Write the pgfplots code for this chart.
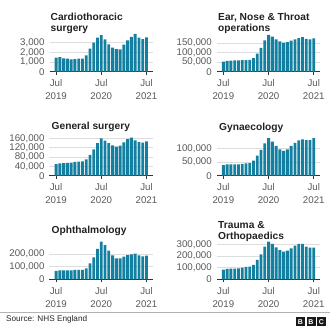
\documentclass[border=0pt]{standalone}
\usepackage{fontspec}
\setmainfont{Liberation Sans}
\usepackage{pgfplots}
\pgfplotsset{compat=1.18}
\definecolor{bbcteal}{HTML}{1380A1}
\definecolor{tickgray}{HTML}{5A5A5A}
\definecolor{gridgray}{HTML}{DDDDDD}
\definecolor{titlecol}{HTML}{222222}
\pgfplotsset{
 panel/.style={
  scale only axis, width=103pt, height=38pt,
  anchor=south west,
  xmin=-1.75, xmax=25.6, ymin=0,
  axis lines=left, axis line style={-},
  x axis line style={draw=black!80, line width=0.9pt},
  y axis line style={draw=none},
  ymajorgrids, grid style={gridgray, line width=0.6pt},
  xtick={0,12,24}, xticklabels={Jul\\2019,Jul\\2020,Jul\\2021},
  xtick align=outside,
  major tick length=3pt,
  xtick style={draw=black!80, line width=0.8pt},
  ytick style={draw=none},
  tick label style={font=\fontsize{9.7}{12.8}\selectfont, text=tickgray},
  xticklabel style={align=center, yshift=-1.5pt},
  scaled y ticks=false,
  /pgf/number format/fixed,
  /pgf/number format/1000 sep={,},
  /pgf/number format/assume math mode=true,
  clip=false,
  ybar, bar width=0.76,
 },
 bars/.style={fill=bbcteal, draw=none},
}
\newcommand{\ttl}[3]{\node[anchor=base west, inner sep=0pt, text=titlecol, font=\bfseries\fontsize{10.2}{11}\selectfont] at (#1pt,#2pt) {#3};}
\begin{document}
\begin{tikzpicture}
\fill[white] (0pt,0pt) rectangle (330pt,330pt);
\useasboundingbox (0pt,0pt) rectangle (330pt,330pt);

% Panel 1
\begin{axis}[panel, at={(49.5pt,258.3pt)}, ymax=3930, ytick={0,1000,2000,3000}]
\addplot[bars] coordinates {(0,1450)(1,1520)(2,1380)(3,1345)(4,1275)(5,1310)(6,1345)(7,1345)(8,1690)(9,2380)(10,3000)(11,3520)(12,3790)(13,3340)(14,2830)(15,2480)(16,2340)(17,2310)(18,2790)(19,3240)(20,3590)(21,3900)(22,3520)(23,3380)(24,3550)};
\end{axis}
\ttl{50.5}{309.3}{Cardiothoracic}
\ttl{50.5}{298.3}{surgery}

% Panel 2
\begin{axis}[panel, at={(216.8pt,258.3pt)}, ymax=198500, ytick={0,50000,100000,150000}]
\addplot[bars] coordinates {(0,53000)(1,57000)(2,57500)(3,59000)(4,59000)(5,60000)(6,60500)(7,62000)(8,71000)(9,95000)(10,124000)(11,164000)(12,193000)(13,183000)(14,169000)(15,159000)(16,152000)(17,155000)(18,162000)(19,169000)(20,176000)(21,181000)(22,172000)(23,169000)(24,174000)};
\end{axis}
\ttl{218}{309.3}{Ear, Nose \& Throat}
\ttl{218}{298.3}{operations}

% Panel 3
\begin{axis}[panel, at={(49.5pt,154.3pt)}, ymax=162600, ytick={0,40000,80000,120000,160000}]
\addplot[bars] coordinates {(0,49000)(1,53000)(2,54000)(3,54500)(4,56000)(5,59000)(6,60000)(7,61000)(8,70000)(9,89000)(10,113000)(11,139000)(12,160000)(13,150000)(14,139000)(15,130000)(16,124000)(17,129000)(18,143000)(19,156000)(20,163000)(21,151000)(22,144000)(23,141000)(24,147000)};
\end{axis}
\ttl{51.5}{200.7}{General surgery}

% Panel 4
\begin{axis}[panel, at={(216.8pt,154.3pt)}, ymax=138700, ytick={0,50000,100000}]
\addplot[bars] coordinates {(0,39000)(1,41000)(2,41000)(3,41000)(4,41000)(5,43000)(6,45000)(7,46000)(8,55000)(9,73000)(10,94000)(11,118000)(12,137000)(13,124000)(14,109000)(15,96000)(16,91000)(17,96000)(18,109000)(19,120000)(20,129000)(21,133000)(22,130000)(23,130000)(24,137000)};
\end{axis}
\ttl{219}{199.5}{Gynaecology}

% Panel 5
\begin{axis}[panel, at={(49.5pt,50.7pt)}, ymax=300400, ytick={0,100000,200000}]
\addplot[bars] coordinates {(0,66000)(1,71000)(2,71000)(3,71000)(4,71000)(5,74000)(6,74000)(7,74000)(8,87000)(9,126000)(10,174000)(11,240000)(12,297000)(13,271000)(14,226000)(15,189000)(16,166000)(17,166000)(18,179000)(19,192000)(20,197000)(21,203000)(22,189000)(23,182000)(24,187000)};
\end{axis}
\ttl{51.5}{96.7}{Ophthalmology}

% Panel 6
\begin{axis}[panel, at={(216.8pt,50.7pt)}, ymax=325700, ytick={0,100000,200000,300000}]
\addplot[bars] coordinates {(0,83000)(1,89000)(2,91000)(3,91000)(4,94000)(5,100000)(6,106000)(7,109000)(8,123000)(9,166000)(10,214000)(11,280000)(12,323000)(13,303000)(14,274000)(15,251000)(16,237000)(17,246000)(18,266000)(19,289000)(20,303000)(21,303000)(22,280000)(23,271000)(24,271000)};
\end{axis}
\ttl{218}{101.7}{Trauma \&}
\ttl{218}{90.7}{Orthopaedics}

% Footer
\draw[black!30, line width=0.8pt] (0pt,17.3pt) -- (330pt,17.3pt);
\node[anchor=base west, inner sep=0pt, text=black!85, font=\fontsize{8.2}{10}\selectfont] at (6pt,8.3pt) {Source: NHS England};
\foreach \i/\l in {0/B,1/B,2/C}{
  \fill[black!90] (296pt+\i*10.5pt,3.5pt) rectangle ++(9pt,9pt);
  \node[text=white, font=\bfseries\fontsize{7}{7}\selectfont, inner sep=0pt] at (300.5pt+\i*10.5pt,8pt) {\l};
}
\end{tikzpicture}
\end{document}
